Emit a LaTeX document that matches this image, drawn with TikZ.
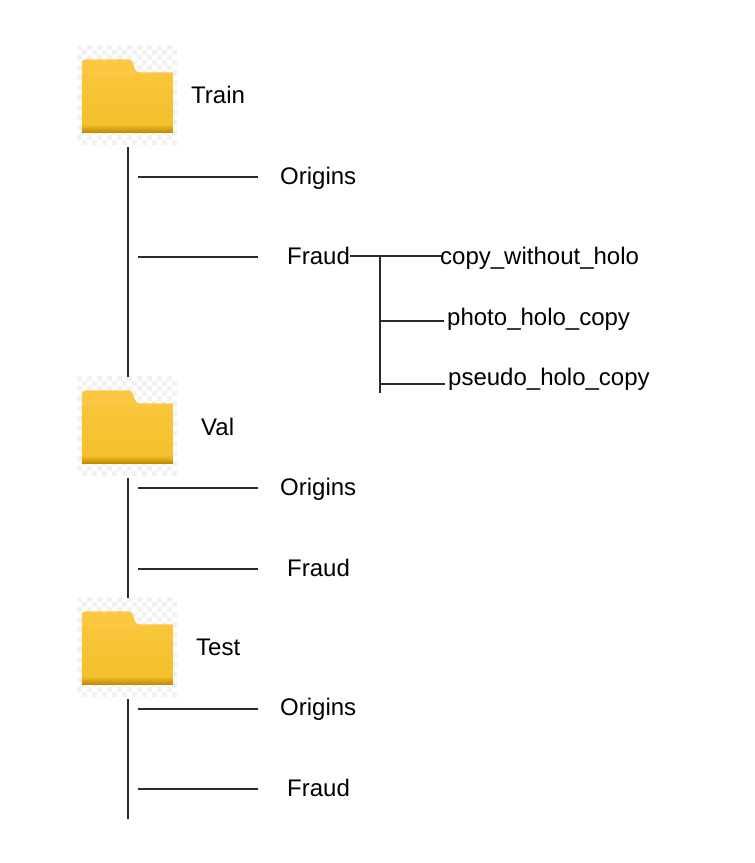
\documentclass[tikz,border=0pt]{standalone}
\usepackage{fontspec}
\setmainfont{Liberation Sans}
\definecolor{fbody}{HTML}{F5C02C}
\definecolor{ftab}{HTML}{FDC743}
\definecolor{fband}{HTML}{F8C63A}
\definecolor{fdark}{HTML}{C08A00}
\definecolor{chk}{HTML}{F1F1F1}
\definecolor{ink}{HTML}{2A2A2A}
\tikzset{
  x=1pt,y=-1pt,
  lab/.style={anchor=base west,inner sep=0pt,font=\fontsize{24}{28}\selectfont,text=black},
  conn/.style={draw=ink,line width=2pt},
  folderbox/.style={minimum width=100pt,minimum height=100pt,inner sep=0pt},
  folderart/.pic={
    \foreach \i in {0,...,19}{\foreach \j in {0,...,19}{
      \pgfmathparse{int(mod(\i+\j,2))}
      \ifnum\pgfmathresult=0
        \fill[chk] (\i*5,\j*5) rectangle ++(5,5);
      \fi}}
    \fill[ftab] (5,19) .. controls (5,15.5) and (6,14) .. (9,14)
      -- (51,14) .. controls (54,14) and (55,15) .. (56,18)
      -- (58,23) .. controls (59,26) and (60,27) .. (63,27)
      -- (96,27) -- (96,32) -- (5,32) -- cycle;
    \shade[top color=fband,bottom color=fbody] (5,30) rectangle (96,80);
    \shade[top color=fbody,bottom color=fdark] (5,79) rectangle (96,87);
    \fill[fdark] (5,86.5) rectangle (96,88);
  }
}
\begin{document}
\begin{tikzpicture}
\useasboundingbox (0,0) rectangle (755,863);
% folders
\node[folderbox] (f1) at (127,95.5) {};
\node[folderbox] (f2) at (127,426.5) {};
\node[folderbox] (f3) at (127,647.5) {};
\pic at (f1.north west) {folderart};
\pic at (f2.north west) {folderart};
\pic at (f3.north west) {folderart};
% folder labels
\node[lab] (train) at (191,103) {Train};
\node[lab] (val) at (201,435) {Val};
\node[lab] (test) at (196,655) {Test};
% Train children
\node[lab] (o1) at (280,184) {Origins};
\node[lab] (fr1) at (287,264) {Fraud};
\node[lab] (cp) at (440,264) {copy\_without\_holo};
\node[lab] (ph) at (447,325) {photo\_holo\_copy};
\node[lab] (ps) at (448,385) {pseudo\_holo\_copy};
% Val children
\node[lab] (o2) at (280,495) {Origins};
\node[lab] (fr2) at (287,576) {Fraud};
% Test children
\node[lab] (o3) at (280,715) {Origins};
\node[lab] (fr3) at (287,796) {Fraud};
% free-end coordinates
\coordinate (t1) at (128,147);
\coordinate (b1) at (128,377);
\coordinate (t2) at (128,478);
\coordinate (b2) at (128,598);
\coordinate (t3) at (128,699);
\coordinate (b3) at (128,819);
\coordinate (ao1) at (138,176.5); \coordinate (eo1) at (258,176.5);
\coordinate (af1) at (138,257);   \coordinate (ef1) at (258,257);
\coordinate (ao2) at (138,488);   \coordinate (eo2) at (258,488);
\coordinate (af2) at (138,568.5); \coordinate (ef2) at (258,568.5);
\coordinate (ao3) at (138,708.5); \coordinate (eo3) at (258,708.5);
\coordinate (af3) at (138,789);   \coordinate (ef3) at (258,789);
\coordinate (bs) at (350,256);  \coordinate (be) at (441,256);
\coordinate (vt) at (379.5,256); \coordinate (vb) at (379.5,393);
\coordinate (ph0) at (379.5,321); \coordinate (ph1) at (444,321);
\coordinate (ps0) at (379.5,383.5); \coordinate (ps1) at (445,383.5);
% connectors
\draw[conn] (t1) -- (b1);
\draw[conn] (t2) -- (b2);
\draw[conn] (t3) -- (b3);
\draw[conn] (ao1) -- (eo1);
\draw[conn] (af1) -- (ef1);
\draw[conn] (ao2) -- (eo2);
\draw[conn] (af2) -- (ef2);
\draw[conn] (ao3) -- (eo3);
\draw[conn] (af3) -- (ef3);
\draw[conn] (bs) -- (be);
\draw[conn] (vt) -- (vb);
\draw[conn] (ph0) -- (ph1);
\draw[conn] (ps0) -- (ps1);
\end{tikzpicture}
\end{document}
